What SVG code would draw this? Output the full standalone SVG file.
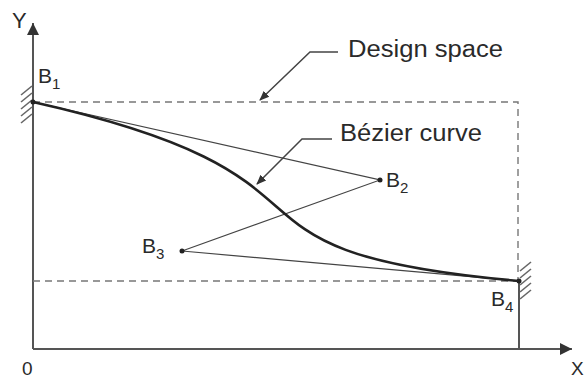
<svg xmlns="http://www.w3.org/2000/svg" width="585" height="379" viewBox="0 0 585 379">
<defs>
<style>
text{font-family:"Liberation Sans",Arial,sans-serif;fill:#2a2a2a}
.lbl{font-size:21px}
.sub{font-size:15px}
.ann{font-size:23px}
.axis{stroke:#555;stroke-width:2;fill:none}
.dash{stroke:#777;stroke-width:1.4;stroke-dasharray:7 5;fill:none}
.ctrl{stroke:#444;stroke-width:1.2;fill:none}
.curve{stroke:#222;stroke-width:2.6;fill:none}
.lead{stroke:#444;stroke-width:1.5;fill:none}
.hatch{stroke:#666;stroke-width:1.6}
</style>
<marker id="ah" viewBox="0 0 10 10" refX="9" refY="5" markerWidth="10" markerHeight="10" markerUnits="userSpaceOnUse" orient="auto"><path d="M0,1 L10,5 L0,9 Z" fill="#333"/></marker>
<marker id="axh" viewBox="0 0 10 10" refX="10" refY="5" markerWidth="16" markerHeight="12" markerUnits="userSpaceOnUse" orient="auto"><path d="M0,0 L10,5 L0,10 Z" fill="#333"/></marker>
</defs>
<g id="axes">
<line class="axis" x1="33" y1="349" x2="33" y2="23" marker-end="url(#axh)"/>
<line class="axis" x1="33" y1="349" x2="572" y2="349" marker-end="url(#axh)"/>
<text x="12" y="28" class="lbl" style="font-size:22px">Y</text>
<text x="22" y="375" class="lbl" style="font-size:19px">0</text>
<text x="571" y="375" class="lbl" style="font-size:19px">X</text>
</g>
<g id="design-space">
<polyline class="dash" points="33,102 518,102 518,281"/>
<line class="dash" x1="33" y1="281" x2="518" y2="281"/>
</g>
<g id="connectors">
<polyline class="ctrl" points="33,102 380,180 182,251 519,281"/>
<path class="curve" d="M33,102 C380,180 182,251 519,281"/>
<line class="axis" x1="519" y1="281" x2="519" y2="349"/>
<polyline class="lead" points="338,52 310,52 260,100" marker-end="url(#ah)"/>
<polyline class="lead" points="332,139 302,139 257,184" marker-end="url(#ah)"/>
</g>
<g id="B1">
<g class="hatch"><line x1="21" y1="95" x2="32" y2="86"/><line x1="21" y1="102" x2="32" y2="93"/><line x1="21" y1="109" x2="32" y2="100"/><line x1="21" y1="116" x2="32" y2="107"/><line x1="21" y1="123" x2="32" y2="114"/></g>
<circle cx="33" cy="102" r="2.5" fill="#222"/>
<text x="38" y="83" class="lbl">B<tspan class="sub" dy="6">1</tspan></text>
</g>
<g id="B2">
<circle cx="380" cy="180" r="2.5" fill="#222"/>
<text x="386" y="187" class="lbl">B<tspan class="sub" dy="6">2</tspan></text>
</g>
<g id="B3">
<circle cx="182" cy="251" r="2.5" fill="#222"/>
<text x="142" y="253" class="lbl">B<tspan class="sub" dy="6">3</tspan></text>
</g>
<g id="B4">
<g class="hatch"><line x1="520" y1="271" x2="531" y2="262"/><line x1="520" y1="278" x2="531" y2="269"/><line x1="520" y1="285" x2="531" y2="276"/><line x1="520" y1="292" x2="531" y2="283"/><line x1="520" y1="299" x2="531" y2="290"/></g>
<circle cx="519" cy="281" r="2.5" fill="#222"/>
<text x="491" y="306" class="lbl">B<tspan class="sub" dy="6">4</tspan></text>
</g>
<g id="labels">
<text x="348" y="57" class="ann" textLength="155" lengthAdjust="spacingAndGlyphs">Design space</text>
<text x="340" y="141" class="ann" textLength="142" lengthAdjust="spacingAndGlyphs">Bézier curve</text>
</g>
</svg>
